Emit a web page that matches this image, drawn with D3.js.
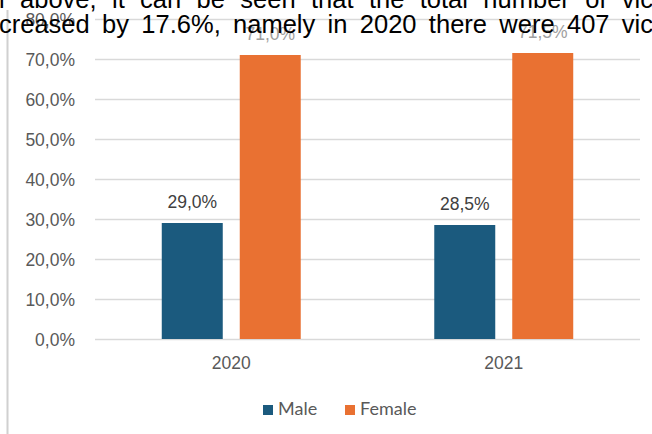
<!DOCTYPE html>
<html>
<head>
<meta charset="utf-8">
<script src="https://cdn.jsdelivr.net/npm/d3@7"></script>
<style>
  body { margin: 0; background: #fff; }
  svg { display: block; }
</style>
</head>
<body>
<script>
const years = ["2020", "2021"];
const seriesNames = ["Male", "Female"];
const male = [0.290, 0.285];
const female = [0.710, 0.715];
const yTicks = [0, 0.1, 0.2, 0.3, 0.4, 0.5, 0.6, 0.7, 0.8];
const colors = { Male: "#1b5a7e", Female: "#e97132" };

const W = 652, H = 434;
const svg = d3.select("body").append("svg")
    .attr("width", W)
    .attr("height", H);

const fmt = v => d3.format(".1f")(v * 100).replace(".", ",") + "%";
const labelFont = "Liberation Sans, Arial, sans-serif";

const x = d3.scaleBand().domain(years).range([95, 640]);
const xs = d3.scaleBand().domain(seriesNames)
    .range([0, x.bandwidth()])
    .paddingInner(0.218)
    .paddingOuter(0.856);
const y = d3.scaleLinear().domain([0, 0.8]).range([339, 19]);

// left frame edge
svg.append("line")
    .attr("x1", 7.5).attr("x2", 7.5)
    .attr("y1", 10).attr("y2", H)
    .attr("stroke", "#d0d0d0").attr("stroke-width", 2);

// gridlines + y labels
const yAxis = svg.append("g")
    .attr("transform", "translate(95,0)")
    .call(d3.axisLeft(y).tickValues(yTicks).tickFormat(fmt)
        .tickSize(-(640 - 95)).tickPadding(20));
yAxis.select(".domain").remove();
yAxis.selectAll(".tick line").attr("stroke", "#d9d9d9").attr("stroke-width", 1.5);
yAxis.selectAll(".tick text")
    .attr("fill", "#595959")
    .attr("dy", "0.36em")
    .style("font-family", labelFont)
    .style("font-size", "17.5px");

// bars
const data = years.map((yr, i) => ({ year: yr, Male: male[i], Female: female[i] }));
const groups = svg.selectAll(".grp").data(data).enter().append("g")
    .attr("class", "grp")
    .attr("transform", d => `translate(${x(d.year)},0)`);

groups.selectAll("rect")
    .data(d => seriesNames.map(s => ({ s, v: d[s] })))
    .enter().append("rect")
    .attr("x", d => xs(d.s))
    .attr("width", xs.bandwidth())
    .attr("y", d => y(d.v))
    .attr("height", d => y(0) - y(d.v))
    .attr("fill", d => colors[d.s]);

groups.selectAll(".lbl")
    .data(d => seriesNames.map(s => ({ s, v: d[s] })))
    .enter().append("text")
    .attr("class", "lbl")
    .attr("x", d => xs(d.s) + xs.bandwidth() / 2)
    .attr("y", d => y(d.v) - 15)
    .attr("text-anchor", "middle")
    .attr("fill", d => d.s === "Female" ? "#a0a0a0" : "#404040")
    .style("font-family", labelFont)
    .style("font-size", "17.5px")
    .text(d => fmt(d.v));

// x labels
svg.append("g")
    .attr("transform", "translate(0,339)")
    .call(d3.axisBottom(x).tickSize(0).tickPadding(18))
    .call(g => g.select(".domain").remove())
    .selectAll("text")
    .attr("fill", "#595959")
    .style("font-family", labelFont)
    .style("font-size", "17.5px");

// legend
const legend = svg.append("g").attr("transform", "translate(263,415)");
const legendX = [0, 82];
seriesNames.forEach((s, i) => {
  const g = legend.append("g").attr("transform", `translate(${legendX[i]},0)`);
  g.append("rect").attr("x", 0).attr("y", -10).attr("width", 10).attr("height", 10)
      .attr("fill", colors[s]);
  g.append("text").attr("x", 15).attr("y", 0)
      .attr("fill", "#595959")
      .style("font-family", "Lato, 'Open Sans', sans-serif")
      .style("font-size", "18px")
      .text(s);
});

// overlapping page text from the source document (justified lines)
const lines = [
  { t: "l above, it can be seen that the total number of vic", y: 8 },
  { t: "creased by 17.6%, namely in 2020 there were 407 vic", y: 33 }
];
svg.selectAll(".doc").data(lines).enter().append("text")
    .attr("class", "doc")
    .attr("x", -1)
    .attr("y", d => d.y)
    .attr("fill", "#000")
    .style("font-family", labelFont)
    .style("font-size", "25.5px")
    .text(d => d.t)
    .each(function(d) {
      const len = this.getComputedTextLength();
      const spaces = d.t.split(" ").length - 1;
      const extra = Math.max(0, (654 - len) / spaces);
      d3.select(this).style("word-spacing", extra + "px");
    });
</script>
</body>
</html>
